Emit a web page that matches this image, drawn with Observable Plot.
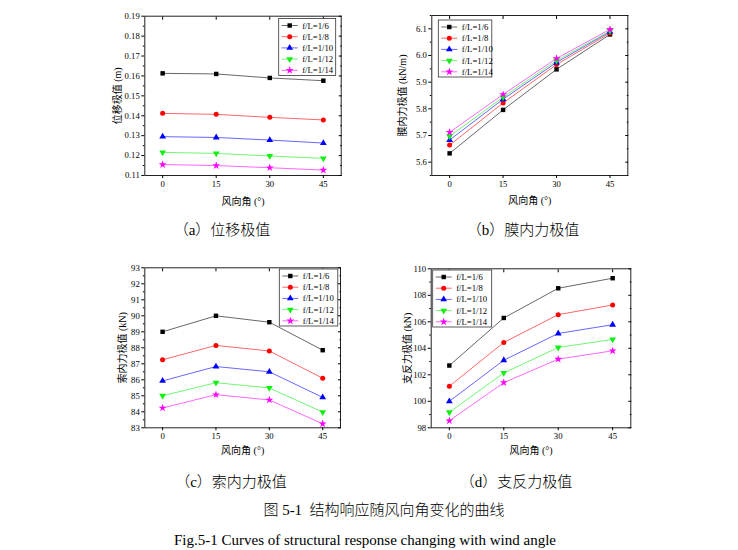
<!DOCTYPE html>
<html><head><meta charset="utf-8">
<script src="https://cdn.jsdelivr.net/npm/d3@7"></script>
<script src="https://cdn.jsdelivr.net/npm/@observablehq/plot@0.6"></script>
<style>
body{margin:0;background:#fff;width:738px;height:550px;position:relative;overflow:hidden;font-family:"Liberation Serif","Noto Sans CJK SC",serif;color:#000;}
.panel{position:absolute;width:250px;height:210px;}
.cap{position:absolute;white-space:nowrap;font-size:15px;font-weight:300;transform:translate(-50%,-50%);line-height:1;}
</style></head><body>
<div id="pa" class="panel" style="left:100px;top:0px"></div>
<div id="pb" class="panel" style="left:390px;top:0px"></div>
<div id="pc" class="panel" style="left:100px;top:255px"></div>
<div id="pd" class="panel" style="left:390px;top:255px"></div>
<div class="cap" style="left:222px;top:230px">（a）位移极值</div>
<div class="cap" style="left:523px;top:230px">（b）膜内力极值</div>
<div class="cap" style="left:231px;top:482px">（c）索内力极值</div>
<div class="cap" style="left:516px;top:482px">（d）支反力极值</div>
<div class="cap" style="left:384px;top:510px">图 5-1&nbsp;&nbsp;结构响应随风向角变化的曲线</div>
<div class="cap" style="left:365px;top:540px;font-weight:400">Fig.5-1 Curves of structural response changing with wind angle</div>
<script>
// ---- data ----
const angles = [0, 15, 30, 45];
const series = ["f/L=1/6", "f/L=1/8", "f/L=1/10", "f/L=1/12", "f/L=1/14"];
const colors = ["#000000", "#ff0000", "#0000ff", "#11ee11", "#ff00ff"];

const dispValues = [
  [0.1613, 0.1610, 0.1590, 0.1576],
  [0.1412, 0.1407, 0.1392, 0.1379],
  [0.1295, 0.1291, 0.1278, 0.1263],
  [0.1216, 0.1211, 0.1198, 0.1186],
  [0.1155, 0.1150, 0.1139, 0.1127]
];
const membraneValues = [
  [5.633, 5.796, 5.948, 6.079],
  [5.664, 5.822, 5.966, 6.084],
  [5.683, 5.836, 5.974, 6.089],
  [5.697, 5.844, 5.981, 6.092],
  [5.712, 5.854, 5.989, 6.098]
];
const cableValues = [
  [89.00, 90.00, 89.60, 87.85],
  [87.25, 88.15, 87.80, 86.10],
  [85.93, 86.83, 86.50, 84.90],
  [85.00, 85.82, 85.49, 83.98],
  [84.24, 85.07, 84.74, 83.25]
];
const reactionValues = [
  [102.70, 106.29, 108.53, 109.29],
  [101.14, 104.44, 106.54, 107.27],
  [100.00, 103.10, 105.12, 105.78],
  [99.17, 102.14, 104.06, 104.67],
  [98.53, 101.41, 103.18, 103.81]
];

const xTicks = [0, 15, 30, 45];
const dispTicks = [0.11, 0.12, 0.13, 0.14, 0.15, 0.16, 0.17, 0.18, 0.19];
const dispMinor = [0.115, 0.125, 0.135, 0.145, 0.155, 0.165, 0.175, 0.185];
const membraneTicks = [5.6, 5.7, 5.8, 5.9, 6.0, 6.1];
const membraneMinor = [5.55, 5.65, 5.75, 5.85, 5.95, 6.05, 6.15];
const cableTicks = [83, 84, 85, 86, 87, 88, 89, 90, 91, 92, 93];
const cableMinor = [83.5, 84.5, 85.5, 86.5, 87.5, 88.5, 89.5, 90.5, 91.5, 92.5];
const reactionTicks = [98, 100, 102, 104, 106, 108, 110];
const reactionMinor = [99, 101, 103, 105, 107, 109];

const xLabel = "风向角 (°)";

// ---- symbols ----
const sqrt3 = Math.sqrt(3);
const triangleDown = {
  draw(ctx, size) {
    const y = Math.sqrt(size / (sqrt3 * 3));
    ctx.moveTo(0, y * 2);
    ctx.lineTo(-sqrt3 * y, -y);
    ctx.lineTo(sqrt3 * y, -y);
    ctx.closePath();
  }
};
const symbols = [d3.symbolSquare, d3.symbolCircle, d3.symbolTriangle, triangleDown, d3.symbolStar];
const R = 2.5;
const FONT = "'Liberation Serif','Noto Sans CJK SC',serif";

function panel(id, o) {
  const [mt, mr, mb, ml] = o.margins;
  const W = 250, H = 210;
  const marks = [];
  o.values.forEach((vals, s) => {
    const rows = angles.map((a, i) => ({angle: a, value: vals[i]}));
    marks.push(Plot.line(rows, {x: "angle", y: "value", stroke: colors[s], strokeWidth: 0.6}));
  });
  o.values.forEach((vals, s) => {
    const rows = angles.map((a, i) => ({angle: a, value: vals[i]}));
    marks.push(Plot.dot(rows, {x: "angle", y: "value", symbol: symbols[s], r: R, fill: colors[s], stroke: "none"}));
  });
  marks.push(Plot.frame({stroke: "#222", strokeWidth: 1}));
  marks.push(Plot.axisX({anchor: "bottom", ticks: xTicks, tickSize: 3, tickPadding: 2, label: null, tickFormat: d => String(d)}));
  marks.push(Plot.axisX({anchor: "top", ticks: xTicks, tickSize: -3, fill: "none", label: null}));
  marks.push(Plot.axisY({anchor: "left", ticks: o.yTicks, tickSize: 3, tickPadding: 2, label: null, tickFormat: o.yFormat}));
  marks.push(Plot.axisY({anchor: "left", ticks: o.yMinor, tickSize: 1.5, fill: "none", label: null}));
  marks.push(Plot.axisY({anchor: "right", ticks: o.yTicks, tickSize: -3, fill: "none", label: null}));
  marks.push(Plot.axisY({anchor: "right", ticks: o.yMinor, tickSize: -1.5, fill: "none", label: null}));
  marks.push(Plot.text([xLabel], {frameAnchor: "bottom", lineAnchor: "bottom", dy: o.xLabelDy, fontSize: 10}));
  marks.push(Plot.text([o.yLabel], {frameAnchor: "left", lineAnchor: "top", textAnchor: "middle", rotate: -90, dx: o.yLabelDx, fontSize: 10}));
  const chart = Plot.plot({
    width: W, height: H,
    marginTop: mt, marginRight: mr, marginBottom: mb, marginLeft: ml,
    x: {domain: [-5, 50], axis: null},
    y: {domain: o.yDomain, axis: null},
    style: {fontFamily: FONT, fontSize: "8.7px", background: "transparent", color: "#000"},
    marks
  });
  // legend box
  const L = o.legend;
  const g = d3.select(chart).append("g").attr("class", "legend")
    .attr("text-anchor", "start").attr("font-family", FONT);
  g.append("rect").attr("x", L.x).attr("y", L.y).attr("width", L.w).attr("height", 57)
    .attr("fill", "#fff").attr("stroke", "#333").attr("stroke-width", 0.8);
  series.forEach((name, s) => {
    const yy = L.y + 7 + s * 11.2;
    g.append("line").attr("x1", L.x + 3).attr("x2", L.x + 19).attr("y1", yy).attr("y2", yy)
      .attr("stroke", colors[s]).attr("stroke-width", 0.6);
    g.append("path").attr("d", d3.symbol(symbols[s], Math.PI * R * R)())
      .attr("transform", `translate(${L.x + 11},${yy})`).attr("fill", colors[s]);
    g.append("text").attr("x", L.x + 23.5).attr("y", yy).attr("dy", "0.35em")
      .attr("text-anchor", "start").attr("font-size", 8.7).attr("fill", "#000").text(name);
  });
  document.getElementById(id).appendChild(chart);
}

panel("pa", {
  values: dispValues, yDomain: [0.11, 0.19], yTicks: dispTicks, yMinor: dispMinor,
  yFormat: d => d.toFixed(2), yLabel: "位移极值 (m)",
  margins: [15.7, 9.3, 35, 44.3], yLabelDx: -31.3, xLabelDy: 29,
  legend: {x: 178.7, y: 18.5, w: 57}
});
panel("pb", {
  values: membraneValues, yDomain: [5.55, 6.15], yTicks: membraneTicks, yMinor: membraneMinor,
  yFormat: d => d.toFixed(1), yLabel: "膜内力极值 (kN/m)",
  margins: [15, 12.7, 35, 41.3], yLabelDx: -33, xLabelDy: 28,
  legend: {x: 48.3, y: 20, w: 53.5}
});
panel("pc", {
  values: cableValues, yDomain: [83, 93], yTicks: cableTicks, yMinor: cableMinor,
  yFormat: d => String(d), yLabel: "索内力极值 (kN)",
  margins: [12.3, 10, 37.7, 44.3], yLabelDx: -26, xLabelDy: 26,
  legend: {x: 179.3, y: 14, w: 58.5}
});
panel("pd", {
  values: reactionValues, yDomain: [98, 110], yTicks: reactionTicks, yMinor: reactionMinor,
  yFormat: d => String(d), yLabel: "支反力极值 (kN)",
  margins: [13.3, 9.7, 37.7, 40.7], yLabelDx: -27.4, xLabelDy: 26,
  legend: {x: 42.7, y: 15, w: 59}
});
</script>
</body></html>
